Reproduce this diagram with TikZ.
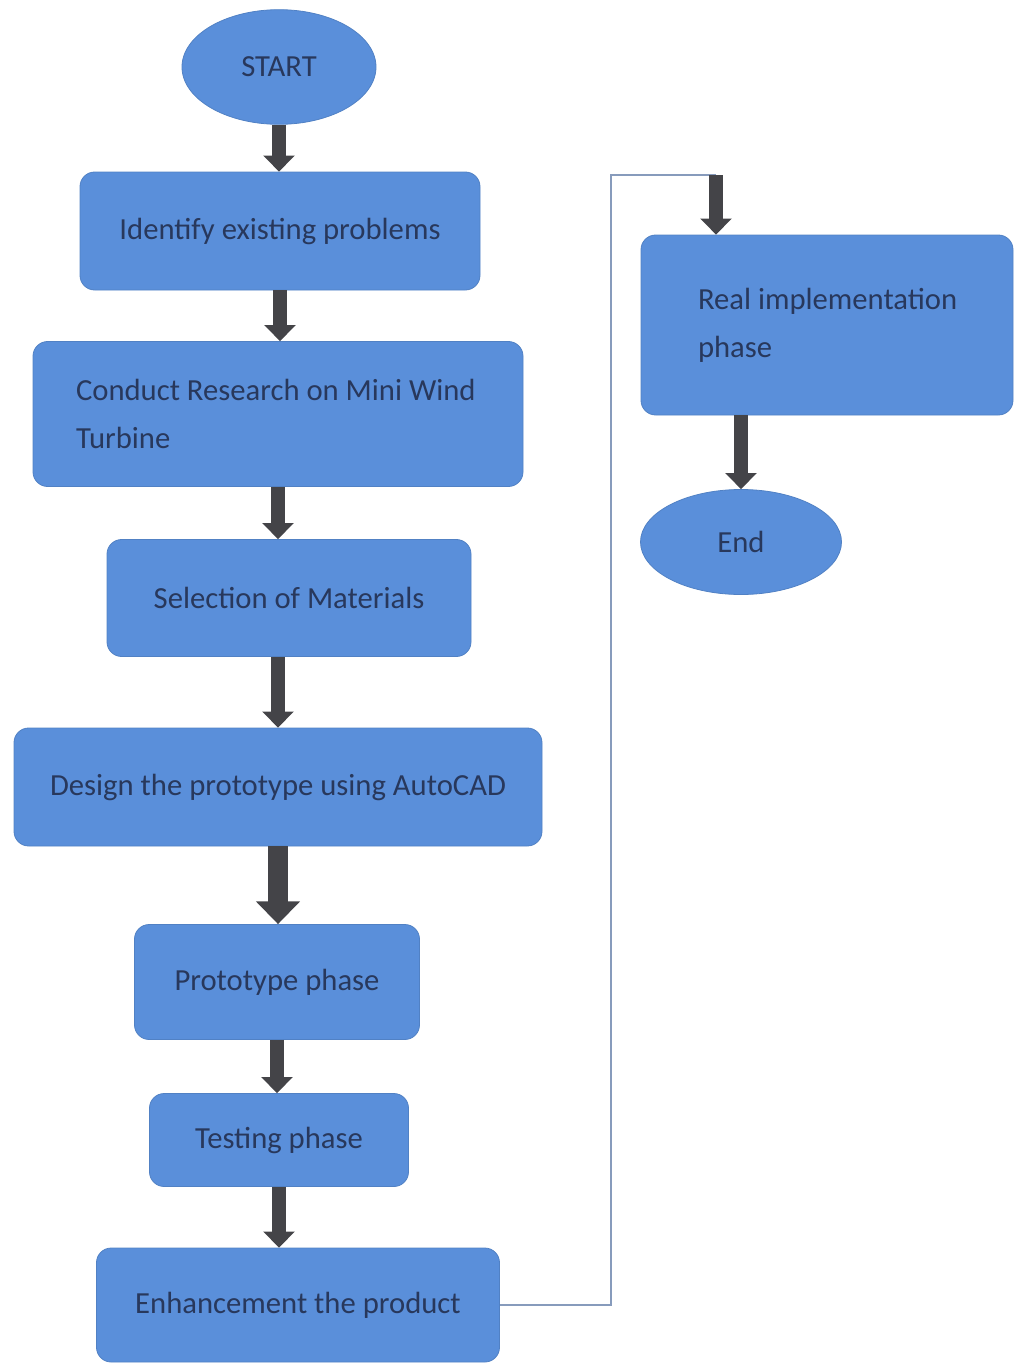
\documentclass[tikz,border=0pt]{standalone}
\usepackage{fontspec}
\setmainfont{Carlito}
\usetikzlibrary{arrows.meta,shapes.geometric}
\definecolor{boxblue}{RGB}{90,143,218}
\definecolor{boxtext}{RGB}{40,56,92}
\definecolor{arrowgrey}{RGB}{68,68,72}
\definecolor{linkgrey}{RGB}{135,155,188}

\begin{document}
\begin{tikzpicture}[x=0.75pt,y=-0.75pt,
		phase/.style={draw=boxblue!90!black, line width=0.6pt, fill=boxblue, rounded corners=11pt,
			text=boxtext, font=\fontsize{23}{36}\selectfont, inner sep=0pt},
		terminal/.style={ellipse, draw=boxblue!90!black, line width=0.6pt, fill=boxblue,
			text=boxtext, font=\fontsize{23}{36}\selectfont, inner sep=0pt},
		blockarrow/.style={draw=arrowgrey, line width=10pt, -{Triangle[width=23pt,length=12pt]}},
		bigarrow/.style={draw=arrowgrey, line width=15pt, -{Triangle[width=32pt,length=17pt]}},
		link/.style={draw=linkgrey, line width=1.1pt}]
			\useasboundingbox (0,0) rectangle (1018,1370);
			% left column
			\node[terminal, minimum width=145.5pt, minimum height=86pt] (start) at (279,67) {START};
			\node[phase, minimum width=300pt, minimum height=88.5pt] (identify) at (280,231) {Identify existing problems};
			\node[phase, minimum width=367.5pt, minimum height=108.75pt, text width=303pt, align=flush left] (research) at (278,414) {Conduct Research on Mini Wind\\Turbine};
			\node[phase, minimum width=273pt, minimum height=87.75pt] (materials) at (289,598) {Selection of Materials};
			\node[phase, minimum width=396pt, minimum height=88.5pt] (design) at (278,787) {Design the prototype using AutoCAD};
			\node[phase, minimum width=213.75pt, minimum height=86.25pt] (proto) at (277,982) {Prototype phase};
			\node[phase, minimum width=194.25pt, minimum height=69.75pt] (testing) at (279,1140) {Testing phase};
			\node[phase, minimum width=302.25pt, minimum height=85.5pt] (enhance) at (298,1305) {Enhancement the product};
			% right column
			\node[phase, minimum width=279pt, minimum height=135pt, text width=193.5pt, align=flush left] (real) at (827,325) {\mbox{Real implementation}\\phase};
			\node[terminal, minimum width=150.75pt, minimum height=78.75pt] (end) at (741,542) {End};
			\coordinate (bend) at (611,175);
			\coordinate (top) at (716,175);

			\draw[blockarrow] (start.south) -- (start.south |- identify.north);
			\draw[blockarrow] (identify.south) -- (identify.south |- research.north);
			\draw[blockarrow] (research.south) -- (research.south |- materials.north);
			\draw[blockarrow] (design.north |- materials.south) -- (design.north);
			\draw[bigarrow] (design.south) -- (design.south |- proto.north);
			\draw[blockarrow] (proto.south) -- (proto.south |- testing.north);
			\draw[blockarrow] (testing.south) -- (testing.south |- enhance.north);
			\draw[link] (enhance.east) -| (bend) -- (top);
			\draw[blockarrow] (top) -- (top |- real.north);
			\draw[blockarrow] (real.south -| end.north) -- (end.north);
		\end{tikzpicture}
\end{document}
